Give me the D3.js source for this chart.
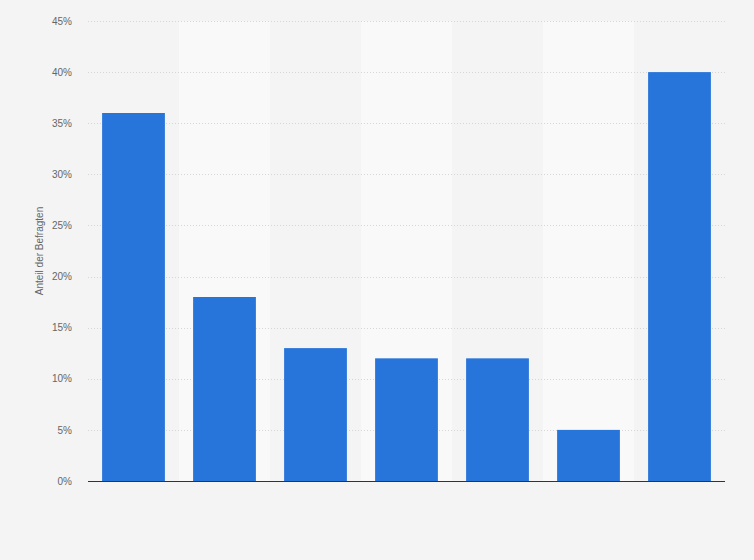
<!DOCTYPE html>
<html>
<head>
<meta charset="utf-8">
<script src="https://cdn.jsdelivr.net/npm/d3@7"></script>
<style>
  html, body { margin: 0; padding: 0; background: #f4f4f4; }
  svg { display: block; font-family: "Liberation Sans", Arial, sans-serif; }
</style>
</head>
<body>
<div id="chart"></div>
<script>
// categories have no visible labels in the original
const categories = ['k1', 'k2', 'k3', 'k4', 'k5', 'k6', 'k7'];
const values = [36, 18, 13, 12, 12, 5, 40];
const yTicks = [0, 5, 10, 15, 20, 25, 30, 35, 40, 45];
const yTitle = 'Anteil der Befragten';

const width = 754;
const height = 560;
const margin = { top: 21, right: 29, bottom: 79, left: 88 };
const w = width - margin.left - margin.right;
const h = height - margin.top - margin.bottom;

const svg = d3.select('#chart')
  .append('svg')
  .attr('width', width)
  .attr('height', height);

svg.append('rect')
  .attr('width', width)
  .attr('height', height)
  .attr('fill', '#f4f4f4');

const g = svg.append('g')
  .attr('transform', 'translate(' + margin.left + ',' + margin.top + ')');

const x = d3.scaleBand().domain(categories).range([0, w]).paddingInner(0.31).paddingOuter(0.155);
const band = d3.scaleBand().domain(categories).range([0, w]);
const y = d3.scaleLinear().domain([0, 45]).range([h, 0]);

// alternating column shading
g.selectAll('.stripe')
  .data(categories.filter((d, i) => i % 2 === 1))
  .enter().append('rect')
  .attr('class', 'stripe')
  .attr('x', d => band(d))
  .attr('y', 0)
  .attr('width', band.bandwidth())
  .attr('height', h)
  .attr('fill', '#f9f9f9');

// grid
g.selectAll('.grid')
  .data(yTicks.filter(d => d > 0))
  .enter().append('line')
  .attr('class', 'grid')
  .attr('x1', 0)
  .attr('x2', w)
  .attr('y1', d => Math.round(y(d)) + 0.5)
  .attr('y2', d => Math.round(y(d)) + 0.5)
  .attr('stroke', '#d6d6d6')
  .attr('stroke-dasharray', '1,2');

// y tick labels
const yAxis = d3.axisLeft(y).tickValues(yTicks).tickFormat(d => d + '%').tickSize(0).tickPadding(16);
g.append('g')
  .call(yAxis)
  .call(a => a.select('.domain').remove())
  .selectAll('text')
  .attr('fill', '#666')
  .style('font-size', '10px')
  .style('font-family', '"Liberation Sans", Arial, sans-serif');

// bars
g.selectAll('.bar')
  .data(values)
  .enter().append('rect')
  .attr('class', 'bar')
  .attr('x', (d, i) => x(categories[i]))
  .attr('y', d => y(d))
  .attr('width', x.bandwidth())
  .attr('height', d => h - y(d))
  .attr('fill', '#2775da');

// baseline
g.append('line')
  .attr('x1', 0)
  .attr('x2', w)
  .attr('y1', h + 0.5)
  .attr('y2', h + 0.5)
  .attr('stroke', '#333')
  .attr('stroke-width', 1);

// y title
svg.append('text')
  .attr('transform', 'translate(43,' + (margin.top + h / 2) + ') rotate(-90)')
  .attr('text-anchor', 'middle')
  .attr('fill', '#666')
  .style('font-size', '10px')
  .text(yTitle);
</script>
</body>
</html>
